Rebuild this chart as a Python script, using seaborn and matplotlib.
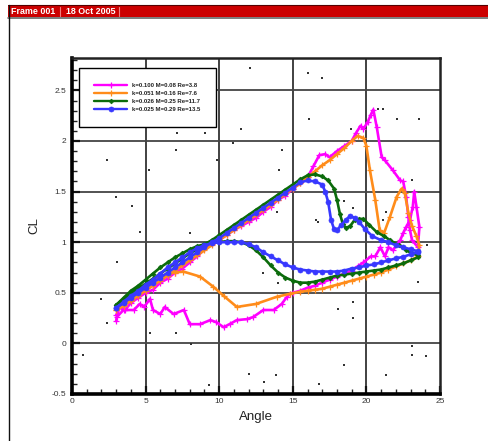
import numpy as np
import pandas as pd
import seaborn as sns
import matplotlib
matplotlib.use("Agg")
import matplotlib.pyplot as plt
from matplotlib.patches import Rectangle
from matplotlib.lines import Line2D
from matplotlib.ticker import MultipleLocator, FixedLocator

# ---------------- data ----------------
series_labels = ["k=0.100 M=0.08 Re=3.8", "k=0.051 M=0.16 Re=7.6",
                 "k=0.026 M=0.25 Re=11.7", "k=0.025 M=0.29 Re=13.5"]
series_colors = ["#FF00FF", "#FF8C1A", "#0B6B0B", "#3838FF"]

mag_angle = [3.0, 3.3, 3.6, 4.0, 4.5, 5.0, 5.5, 6.0, 6.5, 7.0, 7.5, 8.0, 8.5, 9.0, 9.5, 10.0,
             10.5, 11.0, 11.5, 12.0, 12.5, 13.0, 13.5, 14.0, 14.5, 15.0, 15.5, 16.0, 16.4, 16.8,
             17.2, 17.5, 18.0, 18.5, 19.0, 19.3, 19.6, 19.8, 20.1, 20.3, 20.47, 20.7, 21.04, 21.25,
             21.8, 22.3, 22.5, 22.7, 22.85, 22.96, 23.1, 23.5,
             23.6, 23.4, 23.25, 23.15, 22.96, 22.7, 22.5, 22.3, 21.8, 21.5, 21.26, 20.95, 20.6,
             20.3, 19.8, 19.4, 19.0, 18.5, 18.0, 17.5, 17.0, 16.5, 16.0, 15.5, 15.0, 14.8, 14.6,
             14.25, 13.7, 13.0, 12.3, 11.9, 11.2, 10.7, 10.3, 9.8, 9.4, 8.7, 8.0, 7.6, 6.9, 6.3,
             6.0, 5.5, 5.3, 4.9, 4.6, 4.2, 3.5, 3.04, 3.0]
mag_cl = [0.28, 0.36, 0.33, 0.40, 0.45, 0.50, 0.53, 0.60, 0.64, 0.70, 0.74, 0.80, 0.86, 0.93, 0.98, 1.02,
          1.07, 1.12, 1.16, 1.20, 1.24, 1.30, 1.35, 1.42, 1.46, 1.53, 1.58, 1.64, 1.75, 1.86,
          1.87, 1.84, 1.90, 1.95, 2.00, 2.08, 2.15, 2.12, 2.19, 2.26, 2.31, 2.14, 1.84, 1.81,
          1.71, 1.61, 1.60, 1.45, 1.25, 1.12, 1.02, 0.95,
          1.15, 1.35, 1.50, 1.35, 1.22, 1.15, 1.09, 1.02, 0.92, 0.95, 0.86, 0.95, 0.86,
          0.86, 0.80, 0.76, 0.72, 0.69, 0.66, 0.63, 0.60, 0.57, 0.55, 0.52, 0.50, 0.49, 0.46,
          0.39, 0.33, 0.33, 0.26, 0.24, 0.23, 0.19, 0.16, 0.21, 0.23, 0.19, 0.19, 0.33, 0.29, 0.36,
          0.29, 0.33, 0.44, 0.36, 0.39, 0.33, 0.33, 0.26, 0.22]

ora_angle = [3.0, 3.5, 4.0, 4.5, 5.0, 5.5, 6.0, 6.5, 7.0, 7.5, 8.0, 8.5, 9.0, 9.5, 10.0, 10.5,
             11.0, 11.5, 12.0, 12.5, 13.0, 13.5, 14.0, 14.5, 15.0, 15.5, 16.0, 16.5, 17.0, 17.5,
             18.0, 18.5, 19.0, 19.4, 19.8, 20.0, 20.24, 20.6, 20.9, 21.2, 21.6, 22.06, 22.4, 22.6,
             22.85, 23.1, 23.4, 23.6,
             23.5, 23.0, 22.5, 22.0, 21.5, 21.0, 20.5, 20.0, 19.5, 19.0, 18.5, 18.0, 17.5, 17.0,
             16.5, 16.0, 15.5, 14.8, 13.9, 12.5, 11.2, 10.3, 9.6, 8.7, 7.56, 7.0, 6.5, 6.0, 5.5,
             5.0, 4.5, 4.0, 3.5, 3.0]
ora_cl = [0.33, 0.37, 0.42, 0.47, 0.52, 0.57, 0.62, 0.67, 0.72, 0.77, 0.82, 0.87, 0.92, 0.97, 1.02, 1.07,
          1.12, 1.17, 1.22, 1.27, 1.32, 1.37, 1.42, 1.48, 1.53, 1.58, 1.64, 1.70, 1.76, 1.81,
          1.87, 1.93, 2.00, 2.05, 2.03, 1.95, 1.71, 1.42, 1.12, 1.09, 1.25, 1.45, 1.53, 1.49,
          1.29, 1.16, 1.06, 0.97,
          0.86, 0.82, 0.79, 0.76, 0.73, 0.70, 0.68, 0.66, 0.64, 0.62, 0.60, 0.58, 0.56, 0.54,
          0.53, 0.52, 0.51, 0.49, 0.46, 0.39, 0.36, 0.47, 0.56, 0.66, 0.71, 0.70, 0.69, 0.66, 0.61,
          0.55, 0.49, 0.43, 0.38, 0.33]

grn_angle = [3.0, 3.5, 4.0, 4.5, 5.0, 5.5, 6.0, 6.5, 7.0, 7.5, 8.0, 8.5, 9.0, 9.5, 10.0, 10.5,
             11.0, 11.5, 12.0, 12.5, 13.0, 13.5, 14.0, 14.5, 15.0, 15.5, 16.0, 16.5, 17.0, 17.4,
             17.8, 18.0, 18.2, 18.4, 18.6, 18.9, 19.2, 19.5, 19.8, 20.2, 20.7, 21.2, 21.6, 22.2,
             22.7, 23.1, 23.5,
             23.5, 23.0, 22.5, 22.0, 21.5, 21.0, 20.5, 20.0, 19.5, 19.0, 18.5, 18.0, 17.5, 17.0,
             16.5, 16.0, 15.5, 15.0, 14.5, 14.0, 13.5, 13.0, 12.5, 12.0, 11.5, 11.0, 10.5, 10.0,
             9.5, 9.0, 8.5, 8.0, 7.5, 7.0, 6.5, 6.0, 5.5, 5.0, 4.5, 4.0, 3.5, 3.0]
grn_cl = [0.38, 0.43, 0.49, 0.54, 0.59, 0.64, 0.69, 0.74, 0.79, 0.84, 0.89, 0.93, 0.98, 1.02, 1.07, 1.12,
          1.17, 1.22, 1.27, 1.32, 1.37, 1.42, 1.47, 1.52, 1.57, 1.62, 1.66, 1.67, 1.65, 1.61,
          1.53, 1.42, 1.28, 1.18, 1.14, 1.16, 1.22, 1.23, 1.23, 1.17, 1.10, 1.06, 1.02, 0.97,
          0.92, 0.89, 0.87,
          0.85, 0.82, 0.79, 0.77, 0.75, 0.73, 0.72, 0.71, 0.70, 0.69, 0.68, 0.67, 0.65, 0.63,
          0.61, 0.60, 0.60, 0.62, 0.65, 0.70, 0.77, 0.85, 0.92, 0.97, 1.00, 1.01, 1.01, 1.00,
          1.00, 0.98, 0.96, 0.93, 0.89, 0.85, 0.80, 0.75, 0.69, 0.63, 0.57, 0.52, 0.45, 0.38]

blu_angle = [3.0, 3.5, 4.0, 4.5, 5.0, 5.5, 6.0, 6.5, 7.0, 7.5, 8.0, 8.5, 9.0, 9.5, 10.0, 10.5,
             11.0, 11.5, 12.0, 12.5, 13.0, 13.5, 14.0, 14.5, 15.0, 15.5, 16.0, 16.5, 17.0, 17.2,
             17.4, 17.6, 17.8, 18.0, 18.3, 18.6, 18.9, 19.2, 19.5, 19.9, 20.4, 21.0, 21.5, 22.0,
             22.5, 23.0, 23.5,
             23.5, 23.0, 22.5, 22.0, 21.5, 21.0, 20.5, 20.0, 19.5, 19.0, 18.5, 18.0, 17.5, 17.0,
             16.5, 16.0, 15.5, 15.0, 14.5, 14.0, 13.5, 13.0, 12.5, 12.0, 11.5, 11.0, 10.5, 10.0,
             9.5, 9.0, 8.5, 8.0, 7.5, 7.0, 6.5, 6.0, 5.5, 5.0, 4.5, 4.0, 3.5, 3.0]
blu_cl = [0.35, 0.40, 0.45, 0.50, 0.55, 0.60, 0.65, 0.70, 0.75, 0.80, 0.85, 0.90, 0.95, 1.00, 1.04, 1.09,
          1.14, 1.19, 1.24, 1.29, 1.34, 1.39, 1.44, 1.49, 1.54, 1.59, 1.61, 1.60, 1.57, 1.50,
          1.40, 1.22, 1.13, 1.12, 1.17, 1.22, 1.26, 1.24, 1.20, 1.13, 1.06, 1.02, 1.00, 0.97,
          0.95, 0.93, 0.91,
          0.90, 0.88, 0.855, 0.84, 0.82, 0.80, 0.78, 0.77, 0.75, 0.74, 0.72, 0.71, 0.71, 0.71,
          0.71, 0.72, 0.73, 0.75, 0.78, 0.82, 0.86, 0.90, 0.95, 0.98, 1.00, 1.00, 1.00, 1.00,
          0.99, 0.97, 0.94, 0.90, 0.85, 0.80, 0.75, 0.69, 0.63, 0.58, 0.52, 0.47, 0.41, 0.35]

# stray single points scattered in the plot area
dot_angle = [0.75, 8.1, 9.3, 12.0, 13.05, 13.85, 16.8, 18.5, 21.3, 23.1, 23.1, 24.05,
             2.4, 5.2, 7.1, 3.0, 4.05, 4.6, 3.04, 2.0, 2.4, 5.3, 7.07, 7.07, 9.04, 9.85, 8.0,
             10.95, 11.5, 14.06, 14.3, 16.1, 13.0, 14.0, 19.1, 16.6, 18.1, 19.1, 19.1, 24.1,
             23.5, 23.1, 22.1, 23.6, 21.1, 20.8, 18.95, 18.5, 21.3, 21.1, 16.7, 13.9,
             12.1, 16.0, 17.0]
dot_cl = [-0.11, -0.01, -0.41, -0.30, -0.38, -0.31, -0.40, -0.21, -0.31, -0.03, -0.11, -0.12,
          1.81, 1.71, 2.08, 1.45, 1.36, 1.10, 0.80, 0.44, 0.20, 0.10, 0.10, 1.91, 2.08, 1.81, 1.09,
          1.98, 2.12, 1.71, 1.91, 2.22, 0.70, 0.60, 1.34, 1.22, 0.34, 0.41, 0.25, 0.97,
          0.61, 1.61, 2.22, 2.22, 2.32, 2.32, 2.12, 1.41, 1.30, 1.22, 1.20, 1.30,
          2.72, 2.67, 2.62]

x_ticks = [0, 5, 10, 15, 20, 25]
y_ticks = [-0.5, 0, 0.5, 1, 1.5, 2, 2.5]
y_tick_labels = ["-0.5", "0", "0.5", "1", "1.5", "2", "2.5"]

# ---------------- build frame ----------------
frames = []
for lab, a, c in zip(series_labels, [mag_angle, ora_angle, grn_angle, blu_angle],
                     [mag_cl, ora_cl, grn_cl, blu_cl]):
    frames.append(pd.DataFrame({"Angle": a, "CL": c, "series": lab,
                                "order": np.arange(len(a))}))
df = pd.concat(frames, ignore_index=True)
dots = pd.DataFrame({"Angle": dot_angle, "CL": dot_cl})

sns.set_style("white")
plt.rcParams['font.family'] = ['Liberation Sans', 'DejaVu Sans']

W, H = 489, 441
fig = plt.figure(figsize=(W / 100, H / 100), dpi=100)
ax = fig.add_axes([72 / W, 1 - 394 / H, (440 - 72) / W, (394 - 58) / H])

# grid
for gx in [5, 10, 15, 20]:
    ax.axvline(gx, color="#333333", lw=1.3, zorder=0.5)
for gy in [0, 0.5, 1, 1.5, 2, 2.5]:
    ax.axhline(gy, color="#444444", lw=1.3, zorder=0.5)

sns.scatterplot(data=dots, x="Angle", y="CL", ax=ax, color="#333333", s=2.0,
                marker="s", linewidth=0, legend=False, zorder=1)

palette = dict(zip(series_labels, series_colors))
markers = dict(zip(series_labels, ["+", "+", "D", "o"]))
msizes = [4, 4, 2.4, 3.6]
mews = [0.9, 0.9, 0.5, 0.5]
for lab, ms, mew in zip(series_labels, msizes, mews):
    sub = df[df.series == lab]
    sns.lineplot(data=sub, x="Angle", y="CL", ax=ax, sort=False, estimator=None,
                 color=palette[lab], lw=1.9, marker=markers[lab], markersize=ms,
                 markeredgewidth=mew, markeredgecolor=palette[lab], label=lab,
                 legend=False, zorder=3)

ax.set_xlim(0, 25)
ax.set_ylim(-0.5, 2.82)
ax.xaxis.set_major_locator(FixedLocator(x_ticks))
ax.xaxis.set_minor_locator(MultipleLocator(1))
ax.yaxis.set_major_locator(FixedLocator(y_ticks))
ax.yaxis.set_minor_locator(MultipleLocator(0.1))
ax.set_xticklabels([str(v) for v in x_ticks])
ax.set_yticklabels(y_tick_labels)
ax.tick_params(axis="both", which="major", direction="in", length=6, width=1.6,
               labelsize=6.0, colors="#111111", labelcolor="#333333",
               left=True, bottom=True, top=False, right=False)
ax.tick_params(axis="both", which="minor", direction="in", length=3.5, width=1.0,
               colors="#222222", left=True, bottom=True, top=False, right=False)
ax.tick_params(axis="y", which="major", pad=4)
ax.tick_params(axis="x", which="major", pad=3)

for side in ["left", "bottom"]:
    ax.spines[side].set_linewidth(2.6)
    ax.spines[side].set_color("black")
for side in ["top", "right"]:
    ax.spines[side].set_linewidth(1.8)
    ax.spines[side].set_color("#222222")
    ax.spines[side].set_visible(True)

ax.set_xlabel("Angle", fontsize=9.5, color="#222222", labelpad=4)
ax.set_ylabel("CL", fontsize=9.5, color="#222222", labelpad=8)

handles = [Line2D([0], [0], color=c, lw=1.7, marker=m, markersize=ms, markeredgewidth=mew,
                  markeredgecolor=c)
           for c, m, ms, mew in zip(series_colors, ["+", "+", "D", "o"], msizes, mews)]
leg = ax.legend(handles, series_labels, loc="upper left",
                bbox_to_anchor=(18 / 368 - 0.03, 0.97, 0.373, 0.0), mode="expand",
                prop={"size": 4.3, "weight": "bold"}, frameon=True, fancybox=False,
                framealpha=1, edgecolor="black", borderpad=2.5, handlelength=5.6,
                labelspacing=0.45, handletextpad=0.8, borderaxespad=0)
leg.get_frame().set_linewidth(1.0)
for t in leg.get_texts():
    t.set_color("#222222")

# header banner and frame
fig.add_artist(Rectangle((8 / W, 1 - 17 / H), 1, 12 / H, transform=fig.transFigure,
                         facecolor="#CC0000", edgecolor="none"))
fig.add_artist(Line2D([8 / W, 1], [1 - 17.5 / H, 1 - 17.5 / H], transform=fig.transFigure,
                      color="#666666", lw=1.2))
fig.add_artist(Line2D([8 / W, 1], [1 - 5 / H, 1 - 5 / H], transform=fig.transFigure,
                      color="#550000", lw=0.8))
fig.add_artist(Line2D([8.5 / W, 8.5 / W], [0, 1 - 5 / H], transform=fig.transFigure,
                      color="#111111", lw=1.0))
for sx in [60, 119]:
    fig.add_artist(Line2D([sx / W, sx / W], [1 - 16 / H, 1 - 7 / H], transform=fig.transFigure,
                          color="#F08080", lw=0.8))
fig.text(11 / W, 1 - 11.5 / H, "Frame 001", color="white", fontsize=6.4, fontweight="bold",
         va="center", ha="left")
fig.text(66 / W, 1 - 11.5 / H, "18 Oct 2005", color="white", fontsize=6.4, fontweight="bold",
         va="center", ha="left")

fig.savefig("out.png", dpi=100)
